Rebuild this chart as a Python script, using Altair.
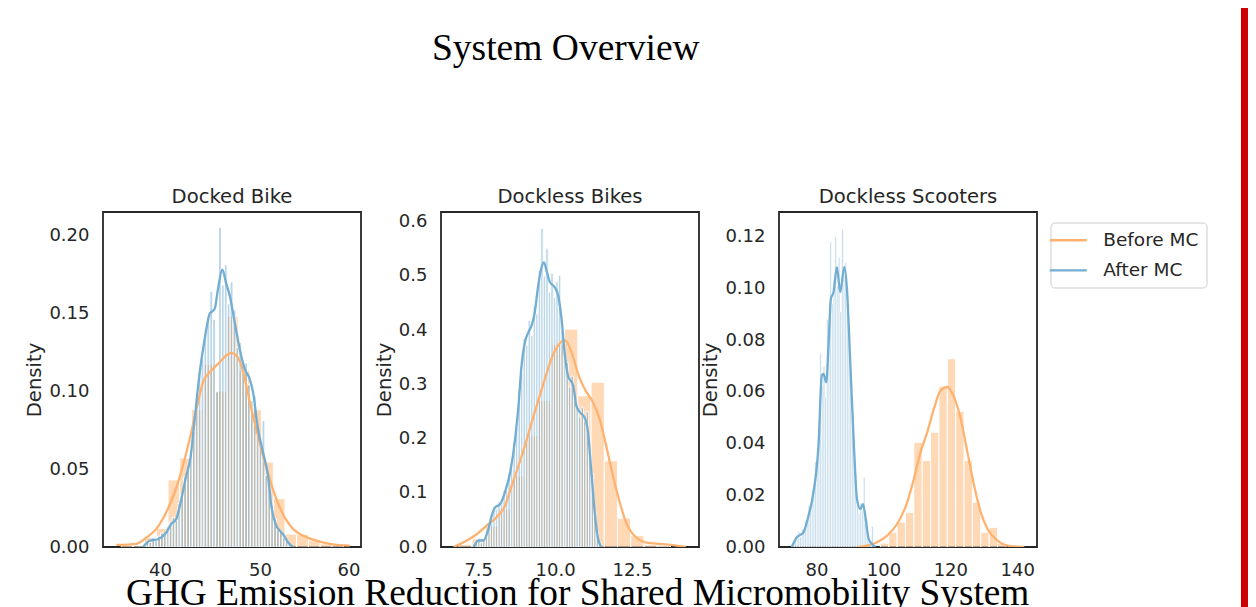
import altair as alt
import pandas as pd

# ---------------- data ----------------
series_names = ["Before MC", "After MC"]
panel_titles = ["Docked Bike", "Dockless Bikes", "Dockless Scooters"]

# Panel 1: Docked Bike
p1_before_start, p1_before_width = 36.12, 1.17
p1_before_hist = [0.001, 0.001, 0.006, 0.012, 0.043, 0.057, 0.088, 0.117, 0.100, 0.148,
                  0.113, 0.088, 0.0545, 0.031, 0.0083, 0.008, 0.004, 0.002, 0.001]
p1_after_start, p1_after_width = 38.6, 0.29
p1_after_hist = [0.003, 0.003, 0.006, 0.004, 0.007, 0.009, 0.008, 0.013, 0.016, 0.019,
                 0.017, 0.028, 0.034, 0.045, 0.049, 0.061, 0.074, 0.099, 0.112, 0.121,
                 0.139, 0.148, 0.164, 0.146, 0.0995, 0.205, 0.168, 0.181, 0.156, 0.170,
                 0.152, 0.128, 0.131, 0.112, 0.118, 0.104, 0.094, 0.097, 0.072, 0.067,
                 0.081, 0.046, 0.038, 0.027, 0.018, 0.011, 0.010, 0.006, 0.004, 0.002]
p1_kde_before_x = [35.63, 37.63, 38.63, 39.63, 40.63, 41.47, 42.3, 43.13, 43.8, 44.3, 44.97,
                   45.8, 46.63, 47.13, 47.63, 48.13, 48.63, 49.13, 49.63, 50.3, 50.97, 51.63,
                   52.47, 53.3, 54.3, 55.63, 57.3, 58.97]
p1_kde_before_y = [0.0013, 0.002, 0.006, 0.0116, 0.0223, 0.0351, 0.0523, 0.0736, 0.0929, 0.1057,
                   0.112, 0.1174, 0.1228, 0.1245, 0.1228, 0.1164, 0.1036, 0.0886, 0.0757, 0.0586,
                   0.0437, 0.0308, 0.019, 0.0116, 0.0073, 0.0041, 0.0017, 0.0009]
p1_kde_after_x = [38.3, 38.97, 39.8, 40.63, 41.13, 41.63, 42.13, 42.63, 43.03, 43.47, 43.97,
                  44.47, 44.97, 45.47, 45.8, 46.23, 46.63, 46.97, 47.47, 47.97, 48.47, 48.97,
                  49.3, 49.8, 50.3, 50.8, 51.13, 51.63, 52.3, 52.8, 53.3]
p1_kde_after_y = [0.0, 0.004, 0.005, 0.0094, 0.0148, 0.018, 0.0308, 0.0458, 0.0565, 0.0822, 0.112,
                  0.1334, 0.1495, 0.1527, 0.1655, 0.1779, 0.1687, 0.1613, 0.1441, 0.127, 0.1142,
                  0.1078, 0.0993, 0.0757, 0.0608, 0.0458, 0.0265, 0.0137, 0.0083, 0.003, 0.0]

# Panel 2: Dockless Bikes
p2_before_start, p2_before_width = 6.87, 0.43
p2_before_hist = [0.005, 0.015, 0.038, 0.07, 0.131, 0.205, 0.27, 0.374, 0.402, 0.279,
                  0.304, 0.159, 0.053, 0.021, 0.004, 0.002]
p2_after_start, p2_after_width = 7.4, 0.082
p2_after_hist = [0.010, 0.016, 0.008, 0.015, 0.024, 0.042, 0.050, 0.074, 0.070, 0.083,
                 0.080, 0.104, 0.105, 0.135, 0.145, 0.195, 0.218, 0.290, 0.322, 0.385,
                 0.372, 0.418, 0.390, 0.445, 0.430, 0.510, 0.588, 0.500, 0.550, 0.470,
                 0.505, 0.460, 0.490, 0.501, 0.400, 0.350, 0.340, 0.295, 0.315, 0.270,
                 0.262, 0.240, 0.258, 0.232, 0.250, 0.175, 0.135, 0.065, 0.028, 0.008]
p2_kde_before_x = [6.7, 7.13, 7.46, 7.78, 8.1, 8.37, 8.59, 8.81, 9.02, 9.24, 9.45, 9.67, 9.88,
                   10.1, 10.32, 10.53, 10.75, 10.96, 11.23, 11.45, 11.66, 11.88, 12.1, 12.31,
                   12.63, 13.07, 13.61, 14.25]
p2_kde_before_y = [0.0, 0.012, 0.024, 0.04, 0.055, 0.076, 0.113, 0.15, 0.187, 0.23, 0.27, 0.31,
                   0.347, 0.372, 0.381, 0.36, 0.319, 0.292, 0.267, 0.236, 0.187, 0.132, 0.083,
                   0.045, 0.018, 0.007, 0.005, 0.0]
p2_kde_after_x = [7.35, 7.51, 7.67, 7.83, 7.94, 8.05, 8.21, 8.37, 8.54, 8.70, 8.81, 8.91, 9.02,
                  9.13, 9.24, 9.34, 9.45, 9.56, 9.64, 9.72, 9.83, 9.99, 10.1, 10.21, 10.32, 10.42,
                  10.59, 10.69, 10.8, 10.96, 11.07, 11.18, 11.29, 11.39, 11.5]
p2_kde_after_y = [0.0, 0.012, 0.012, 0.033, 0.058, 0.073, 0.079, 0.101, 0.138, 0.199, 0.261,
                  0.335, 0.378, 0.396, 0.409, 0.433, 0.482, 0.516, 0.525, 0.51, 0.489, 0.479,
                  0.464, 0.421, 0.353, 0.316, 0.298, 0.261, 0.249, 0.239, 0.212, 0.138, 0.064,
                  0.018, 0.0]

# Panel 3: Dockless Scooters
p3_before_start, p3_before_width = 99.1, 2.5
p3_before_hist = [0.0015, 0.0057, 0.0096, 0.0134, 0.0405, 0.0335, 0.0444, 0.0622, 0.0728,
                  0.0525, 0.0335, 0.0173, 0.0057, 0.0076, 0.0015]
p3_after_start, p3_after_width = 72.5, 0.5
p3_after_hist = [0.001, 0.002, 0.004, 0.003, 0.006, 0.004, 0.007, 0.006, 0.010, 0.009,
                 0.016, 0.015, 0.022, 0.020, 0.033, 0.031, 0.047, 0.075, 0.062, 0.070,
                 0.058, 0.088, 0.079, 0.118, 0.094, 0.103, 0.120, 0.101, 0.112, 0.091,
                 0.123, 0.104, 0.110, 0.090, 0.085, 0.062, 0.055, 0.036, 0.028, 0.017,
                 0.013, 0.017, 0.014, 0.027, 0.010, 0.006, 0.003, 0.002, 0.008, 0.001]
p3_kde_before_x = [92.6, 98.1, 101.1, 104.1, 107.1, 109.1, 111.1, 113.1, 115.1, 117.1, 119.1,
                   121.1, 123.1, 125.1, 127.1, 129.1, 131.1, 134.1, 138.1, 142.1]
p3_kde_before_y = [0.0, 0.0018, 0.0044, 0.0089, 0.0173, 0.0263, 0.0367, 0.0444, 0.0535, 0.0606,
                   0.0619, 0.058, 0.0496, 0.0367, 0.0238, 0.0134, 0.007, 0.0025, 0.0003, 0.0]
p3_kde_after_x = [72.6, 74.1, 76.1, 77.6, 79.1, 80.6, 81.6, 82.1, 82.9, 83.6, 84.3, 85.1, 86.1,
                  87.1, 88.3, 89.1, 90.1, 91.1, 92.1, 93.1, 93.9, 94.6, 95.6, 96.6, 97.6]
p3_kde_after_y = [0.0, 0.0037, 0.0057, 0.012, 0.0211, 0.0392, 0.0664, 0.067, 0.0637, 0.078,
                  0.096, 0.0986, 0.1083, 0.0986, 0.1083, 0.0999, 0.0715, 0.0418, 0.0186, 0.0147,
                  0.0166, 0.012, 0.0031, 0.0012, 0.0]

# axis ranges and ticks
p1_xdom, p1_ydom = [34.3, 60.1], [0, 0.2148]
p2_xdom, p2_ydom = [6.29, 14.68], [0, 0.6179]
p3_xdom, p3_ydom = [68.8, 145.9], [0, 0.1296]
p1_xticks, p1_yticks = [40, 50, 60], [0.0, 0.05, 0.10, 0.15, 0.20]
p2_xticks, p2_yticks = [7.5, 10.0, 12.5], [0.0, 0.1, 0.2, 0.3, 0.4, 0.5, 0.6]
p3_xticks, p3_yticks = [80, 100, 120, 140], [0.0, 0.02, 0.04, 0.06, 0.08, 0.10, 0.12]

# ---------------- styling ----------------
TXT = "#262626"
ORANGE_BAR = "#ff7f0e"
BLUE_BAR = "#1f77b4"
ORANGE_LINE = "#ffb26f"
BLUE_LINE = "#72add2"
PW, PH = 258, 335

color_scale = alt.Scale(domain=series_names, range=[ORANGE_LINE, BLUE_LINE])
legend = alt.Legend(
    title=None, orient="none", legendX=947.5, legendY=10.5,
    symbolType="M-2.06,0H2.06", symbolSize=324, symbolStrokeWidth=2.3,
    labelFont="DejaVu Sans", labelFontSize=18.5, labelColor=TXT, labelOffset=24.5,
    padding=7.25, rowPadding=10.2, strokeColor="#cccccc", fillColor="white",
    cornerRadius=4,
)


def hist_df(start, width, heights):
    return pd.DataFrame({
        "lo": [start + i * width for i in range(len(heights))],
        "hi": [start + (i + 1) * width for i in range(len(heights))],
        "h": heights,
        "base": [0.0] * len(heights),
    })


def panel(title, b_start, b_w, b_h, a_start, a_w, a_h, kbx, kby, kax, kay,
          xdom, ydom, xticks, yticks, xfmt, yfmt, sw):
    xs = alt.Scale(domain=xdom, nice=False, zero=False)
    ys = alt.Scale(domain=ydom, nice=False, zero=False)
    xax = alt.Axis(values=xticks, format=xfmt, title=None)
    yax = alt.Axis(values=yticks, format=yfmt, title="Density")

    before_bars = alt.Chart(hist_df(b_start, b_w, b_h)).mark_rect(
        fill=ORANGE_BAR, fillOpacity=0.3, stroke="white", strokeWidth=1.0, clip=True
    ).encode(x=alt.X("lo:Q", scale=xs, axis=xax), x2="hi",
             y=alt.Y("h:Q", scale=ys, axis=yax), y2="base")
    after_bars = alt.Chart(hist_df(a_start, a_w, a_h)).mark_rect(
        fill=BLUE_BAR, fillOpacity=0.3, stroke="white", strokeWidth=sw, clip=True
    ).encode(x=alt.X("lo:Q", scale=xs, axis=xax), x2="hi",
             y=alt.Y("h:Q", scale=ys, axis=yax), y2="base")

    kb = pd.DataFrame({"x": kbx, "y": kby, "series": series_names[0]})
    ka = pd.DataFrame({"x": kax, "y": kay, "series": series_names[1]})
    line_b = alt.Chart(kb).mark_line(strokeWidth=2.3, interpolate="monotone", clip=True).encode(
        x=alt.X("x:Q", scale=xs, axis=xax), y=alt.Y("y:Q", scale=ys, axis=yax),
        color=alt.Color("series:N", scale=color_scale, legend=legend))
    line_a = alt.Chart(ka).mark_line(strokeWidth=2.3, interpolate="monotone", clip=True).encode(
        x=alt.X("x:Q", scale=xs, axis=xax), y=alt.Y("y:Q", scale=ys, axis=yax),
        color=alt.Color("series:N", scale=color_scale, legend=legend))
    return alt.layer(before_bars, after_bars, line_b, line_a).properties(
        width=PW, height=PH,
        title=alt.TitleParams(title, font="DejaVu Sans", fontSize=19.6, fontWeight="normal",
                              color=TXT, baseline="alphabetic", offset=-11),
    )


c1 = panel(panel_titles[0], p1_before_start, p1_before_width, p1_before_hist,
           p1_after_start, p1_after_width, p1_after_hist,
           p1_kde_before_x, p1_kde_before_y, p1_kde_after_x, p1_kde_after_y,
           p1_xdom, p1_ydom, p1_xticks, p1_yticks, "d", ".2f", 1.0)
c2 = panel(panel_titles[1], p2_before_start, p2_before_width, p2_before_hist,
           p2_after_start, p2_after_width, p2_after_hist,
           p2_kde_before_x, p2_kde_before_y, p2_kde_after_x, p2_kde_after_y,
           p2_xdom, p2_ydom, p2_xticks, p2_yticks, ".1f", ".1f", 0.9)
c3 = panel(panel_titles[2], p3_before_start, p3_before_width, p3_before_hist,
           p3_after_start, p3_after_width, p3_after_hist,
           p3_kde_before_x, p3_kde_before_y, p3_kde_after_x, p3_kde_after_y,
           p3_xdom, p3_ydom, p3_xticks, p3_yticks, "d", ".2f", 0.7)

# decorative red band at the right edge of the slide (its own, axis-less cell)
band = alt.Chart(pd.DataFrame({"k": [0]})).mark_rect(color="#cc0000", clip=False).encode(
    x=alt.value(124), x2=alt.value(131), y=alt.value(-204), y2=alt.value(395)
).properties(width=1, height=PH, view=alt.ViewBackground(strokeOpacity=0))

row = alt.hconcat(c1, c2, c3, band, spacing=80, bounds="flush").properties(
    title=alt.TitleParams("GHG Emission Reduction for Shared Micromobility System",
                          orient="bottom", anchor="start", frame="group", dx=23, offset=-2,
                          baseline="alphabetic", font="Liberation Serif", fontSize=37.3,
                          fontWeight="normal", color="black")
)

chart = alt.vconcat(row, bounds="flush").properties(
    title=alt.TitleParams("System Overview", anchor="start", frame="group", dx=329,
                          offset=-89, baseline="alphabetic", font="Liberation Serif",
                          fontSize=37.5, fontWeight="normal", color="black"),
    padding={"left": 16, "top": 0, "right": 0, "bottom": 0},
    background="white",
).configure_view(
    stroke=TXT, strokeWidth=1.8
).configure_axis(
    domain=False, ticks=False, grid=False,
    labelFont="DejaVu Sans", labelFontSize=18, labelColor=TXT,
    titleFont="DejaVu Sans", titleFontSize=19.6, titleColor=TXT, titleFontWeight="normal",
    labelPadding=14, titlePadding=4,
).configure_axisX(labelPadding=14)

chart.save("out.html", embed_options={"renderer": "svg", "actions": False})
